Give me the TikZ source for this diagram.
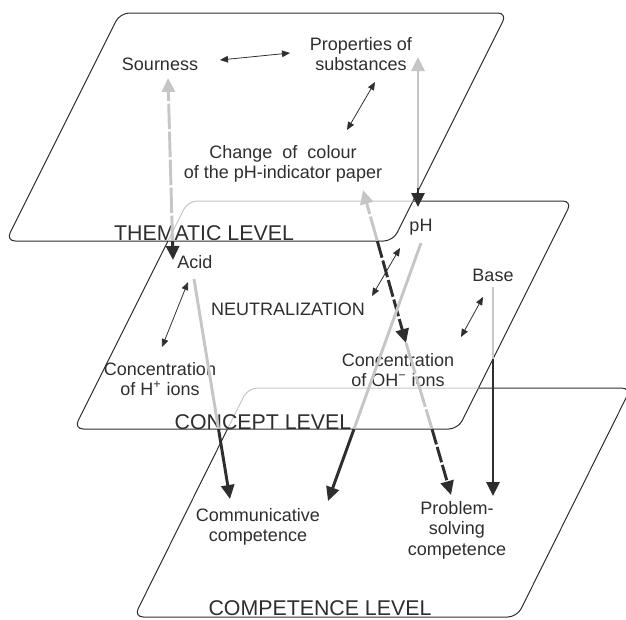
\documentclass[tikz,border=0pt]{standalone}
\usepackage{fontspec}
\setmainfont{Liberation Sans}
\usetikzlibrary{arrows.meta}
\definecolor{ink}{HTML}{2E2E2E}
\definecolor{shade}{HTML}{C6C6C6}

\begin{document}
\begin{tikzpicture}[x=0.75pt,y=-0.75pt,
  plane/.style={draw=ink,line width=0.75pt,rounded corners=7pt},
  hidden/.style={draw=shade,line width=0.75pt,rounded corners=7pt},
  label/.style={text=ink,align=center,inner sep=0pt,
    font=\fontsize{13.5}{15.3}\selectfont},
  levelname/.style={text=ink,inner sep=0pt,font=\fontsize{16}{18}\selectfont},
  link/.style={draw=ink,line width=0.6pt,
    {Triangle[length=6pt,width=5pt]}-{Triangle[length=6pt,width=5pt]}},
  upper/.style={draw=shade,line width=2.2pt},
  lower/.style={draw=ink,line width=2.2pt},
  bighead/.style={-{Triangle[length=10.5pt,width=9.8pt]}},
  broken/.style={dash pattern=on 19pt off 2pt},
  brokenshort/.style={dash pattern=on 13pt off 2.2pt}
]
\useasboundingbox (0,0) rectangle (626,619);

% ---------- the three levels ----------
% thematic level (topmost, fully visible)
\draw[plane] (120,13) -- (507,13) -- (393,241) -- (6,241) -- cycle;
% concept level: the corner lying under the thematic level is light
\draw[hidden] (168,241) -- (188,201) -- (413,201);
\draw[plane] (413,201) -- (572,201) -- (458,429) -- (74,429) -- (168,241);
% competence level: the corner lying under the concept level is light
\draw[hidden] (227.5,429) -- (248,388) -- (478.5,388);
\draw[plane] (478.5,388) -- (631,388) -- (517,617) -- (134,617) -- (227.5,429);

% ---------- labels ----------
\node[label] (sour) at (160,64) {Sourness};
\node[label] (prop) at (361,54) {Properties of\\substances};
\node[label] (colour) at (283,164) {Change~ of~ colour\\of the pH-indicator paper};
\node[levelname] (thematic) at (204,233) {THEMATIC LEVEL};
\node[label] (ph) at (421,227) {pH};
\node[label] (acid) at (195,262) {Acid};
\node[label] (neutral) at (288,309) {NEUTRALIZATION};
\node[label] (base) at (493,275) {Base};
\node[label] (hconc) at (160,379) {Concentration\\of H\textsuperscript{+} ions};
\node[label] (ohconc) at (398,370) {Concentration\\of OH\textsuperscript{−} ions};
\node[levelname] (concept) at (263,422) {CONCEPT LEVEL};
\node[label] (comm) at (258,527) {Communicative\\competence};
\node[label] (solve) at (457,530) {Problem-\\solving\\competence};
\node[levelname] (competence) at (320,608.5) {COMPETENCE LEVEL};

% ---------- end points of the connectors ----------
\coordinate (sourL) at (220,60);   \coordinate (propL) at (290,53);
\coordinate (propD) at (375,82);   \coordinate (colourU) at (347,130);
\coordinate (acidD) at (188,282);  \coordinate (hconcU) at (162,347);
\coordinate (phD) at (400,248);    \coordinate (neutralU) at (372,296);
\coordinate (baseD) at (483,297);  \coordinate (ohconcU) at (461,337);

\coordinate (sourTip) at (168,78);
\coordinate (sourCut) at (172.5,241);
\coordinate (acidTip) at (173,260);

\coordinate (propTip) at (418,57);
\coordinate (propCut) at (418,194);
\coordinate (propCutB) at (418,188);
\coordinate (phTip) at (418,207);

\coordinate (colourTip) at (363,190);
\coordinate (colourCut) at (377.3,241);
\coordinate (ohTip) at (406,343);
\coordinate (ohCut) at (432,429);
\coordinate (solveTipA) at (451,495);

\coordinate (acidFoot) at (194,279);
\coordinate (acidCut) at (218.5,429);
\coordinate (commTipA) at (230,499);

\coordinate (phFoot) at (421,243);
\coordinate (phCut) at (354,429);
\coordinate (commTipB) at (328,501);

\coordinate (baseFoot) at (493,287);
\coordinate (baseCut) at (493,359);
\coordinate (solveTipB) at (493,496);

% ---------- links within a level ----------
\draw[link] (sourL) -- (propL);
\draw[link] (propD) -- (colourU);
\draw[link] (acidD) -- (hconcU);
\draw[link] (phD) -- (neutralU);
\draw[link] (baseD) -- (ohconcU);

% ---------- links between levels ----------
% sourness / acid
\draw[upper,broken,bighead] (sourCut) -- (sourTip);
\draw[lower,bighead] (sourCut) -- (acidTip);
% properties / pH
\draw[upper,bighead] (propCut) -- (propTip);
\draw[lower,bighead] (propCutB) -- (phTip);
% colour change / OH- concentration / problem solving
\draw[upper,broken,bighead] (colourCut) -- (colourTip);
\draw[lower,brokenshort,bighead] (colourCut) -- (ohTip);
\draw[upper,dash pattern=on 24pt off 2pt] (ohTip) -- (ohCut);
\draw[lower,dash pattern=on 12pt off 2pt,bighead] (ohCut) -- (solveTipA);
% acid -> communicative competence
\draw[upper] (acidFoot) -- (acidCut);
\draw[lower,bighead] (acidCut) -- (commTipA);
% pH -> communicative competence
\draw[upper] (phFoot) -- (phCut);
\draw[lower,bighead] (phCut) -- (commTipB);
% base -> problem solving competence
\draw[upper] (baseFoot) -- (baseCut);
\draw[lower,bighead] (baseCut) -- (solveTipB);
\end{tikzpicture}
\end{document}
